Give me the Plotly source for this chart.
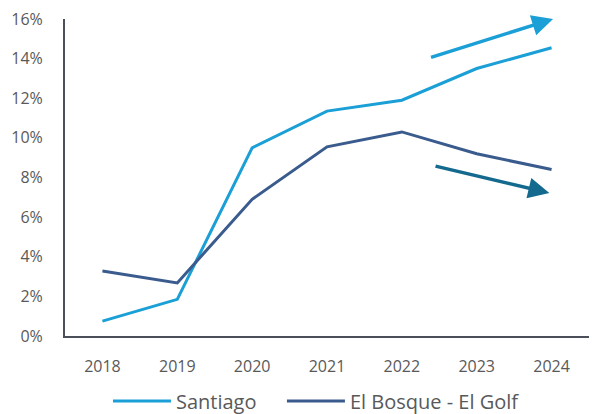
import plotly.graph_objects as go

years = ["2018", "2019", "2020", "2021", "2022", "2023", "2024"]
santiago = [0.75, 1.85, 9.5, 11.35, 11.9, 13.5, 14.55]
bosque = [3.28, 2.68, 6.9, 9.55, 10.3, 9.2, 8.4]
y_ticks = [0, 2, 4, 6, 8, 10, 12, 14, 16]

c_sant = "#1a9fd6"
c_bos = "#3a5b8d"
font = "Open Sans"

fig = go.Figure()
fig.add_trace(go.Scatter(x=years, y=santiago, mode="lines", name="Santiago",
                         line=dict(color=c_sant, width=3), legend="legend"))
fig.add_trace(go.Scatter(x=years, y=bosque, mode="lines", name="El Bosque - El Golf",
                         line=dict(color=c_bos, width=3), legend="legend2"))

# trend arrows
fig.add_annotation(x=6.02, y=16.0, ax=4.37, ay=14.04, xref="x", yref="y", axref="x", ayref="y",
                   showarrow=True, arrowhead=2, arrowsize=1.2, arrowwidth=3.5, arrowcolor="#1a9fd6", text="")
fig.add_annotation(x=5.97, y=7.22, ax=4.43, ay=8.59, xref="x", yref="y", axref="x", ayref="y",
                   showarrow=True, arrowhead=2, arrowsize=1.2, arrowwidth=3.5, arrowcolor="#146a8e", text="")

leg_common = dict(orientation="h", xanchor="left", y=-0.205, yanchor="middle",
                  font=dict(size=20, color="#595959"), itemwidth=58, bgcolor="rgba(0,0,0,0)")

fig.update_layout(
    width=594, height=414,
    margin=dict(l=65, r=5, t=19, b=78, autoexpand=False),
    plot_bgcolor="white", paper_bgcolor="white",
    font=dict(family=font, size=16, color="#595959"),
    showlegend=True,
    legend=dict(x=0.082, **leg_common),
    legend2=dict(x=0.414, **leg_common),
    xaxis=dict(type="category", range=[-0.5, 6.5], showline=True, linecolor="#4a4f5a",
               linewidth=2, showgrid=False, ticks="", ticklabelstandoff=15),
    yaxis=dict(range=[0, 16], tickvals=y_ticks, ticktext=[f"{v}%" for v in y_ticks],
               showline=True, linecolor="#4a4f5a", linewidth=2, showgrid=False,
               zeroline=False, ticks="", ticklabelstandoff=17),
)

fig.write_html("out.html")
